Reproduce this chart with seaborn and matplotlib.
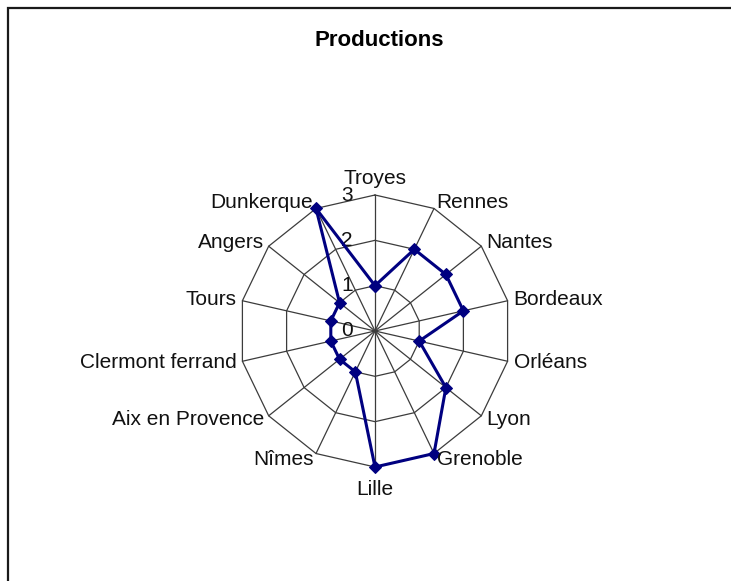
import numpy as np
import pandas as pd
import matplotlib
matplotlib.use("Agg")
import matplotlib.pyplot as plt
import seaborn as sns
from matplotlib.patches import Rectangle

# Production par ville
villes = ["Troyes", "Rennes", "Nantes", "Bordeaux", "Orléans", "Lyon", "Grenoble",
          "Lille", "Nîmes", "Aix en Provence", "Clermont ferrand", "Tours",
          "Angers", "Dunkerque"]
productions = [1, 2, 2, 2, 1, 2, 3, 3, 1, 1, 1, 1, 1, 3]
niveaux = [0, 1, 2, 3]
titre = "Productions"

sns.set_theme(style="white")
plt.rcParams["font.family"] = ["Liberation Sans", "DejaVu Sans"]

W, H = 731, 581
fig = plt.figure(figsize=(W / 100, H / 100), dpi=100)
fig.patch.set_facecolor("white")

# polar axes: centre (375, 331) px, radius 136 px for the outer ring
cx, cy, R = 375, 331, 136
ax = fig.add_axes([(cx - R) / W, (H - cy - R) / H, 2 * R / W, 2 * R / H],
                  projection="polar")
ax.set_theta_zero_location("N")
ax.set_theta_direction(-1)
ax.grid(False)
ax.spines["polar"].set_visible(False)
ax.set_xticks([])
ax.set_yticks([])
ax.set_facecolor("white")

n = len(villes)
angles = np.linspace(0, 2 * np.pi, n, endpoint=False)
rmax = niveaux[-1]

# polygonal web
grid_kw = dict(color="#3c3c3c", lw=0.9, zorder=1, clip_on=False)
for r in niveaux[1:]:
    ax.plot(np.append(angles, angles[0]), np.full(n + 1, r), **grid_kw)
for a in angles:
    ax.plot([a, a], [0, rmax], **grid_kw)

# data series
df = pd.DataFrame({"angle": np.append(angles, 2 * np.pi),
                   "production": productions + productions[:1]})
n_before = len(ax.lines)
sns.lineplot(data=df, x="angle", y="production", sort=False, ax=ax,
             color="#000080", lw=2.2, marker="D", markersize=6.5,
             markeredgecolor="#000080", zorder=3)
for ln in ax.lines[n_before:]:
    ln.set_clip_on(False)
ax.set_xlabel("")
ax.set_ylabel("")
ax.set_xticks([])
ax.set_yticks([])
ax.set_ylim(0, rmax)

# value scale along the first axis
for v in niveaux:
    ax.annotate(str(v), xy=(0, v), xytext=(-16, 0), textcoords="offset points",
                ha="right", va="center", fontsize=15, color="#111111",
                annotation_clip=False, zorder=2)

# category labels
for a, nom in zip(angles, villes):
    s, c = np.sin(a), np.cos(a)
    if abs(s) < 0.05:
        ha = "center"
        off = (0, 12 if c > 0 else -16)
    else:
        ha = "left" if s > 0 else "right"
        off = (4.5 * s, 4.5 * c)
    ax.annotate(nom, xy=(a, rmax), xytext=off, textcoords="offset points",
                ha=ha, va="center", fontsize=15, color="#111111",
                annotation_clip=False)

fig.text(379 / W, 1 - 40 / H, titre, ha="center", va="center",
         fontsize=16, fontweight="bold", color="black")

# chart frame
fig.add_artist(Rectangle((8 / W, -0.1), 1.2, 1 - 8 / H + 0.1,
                         transform=fig.transFigure, fill=False,
                         lw=1.6, ec="#1a1a1a"))

fig.savefig("out.png", dpi=100, facecolor="white")
